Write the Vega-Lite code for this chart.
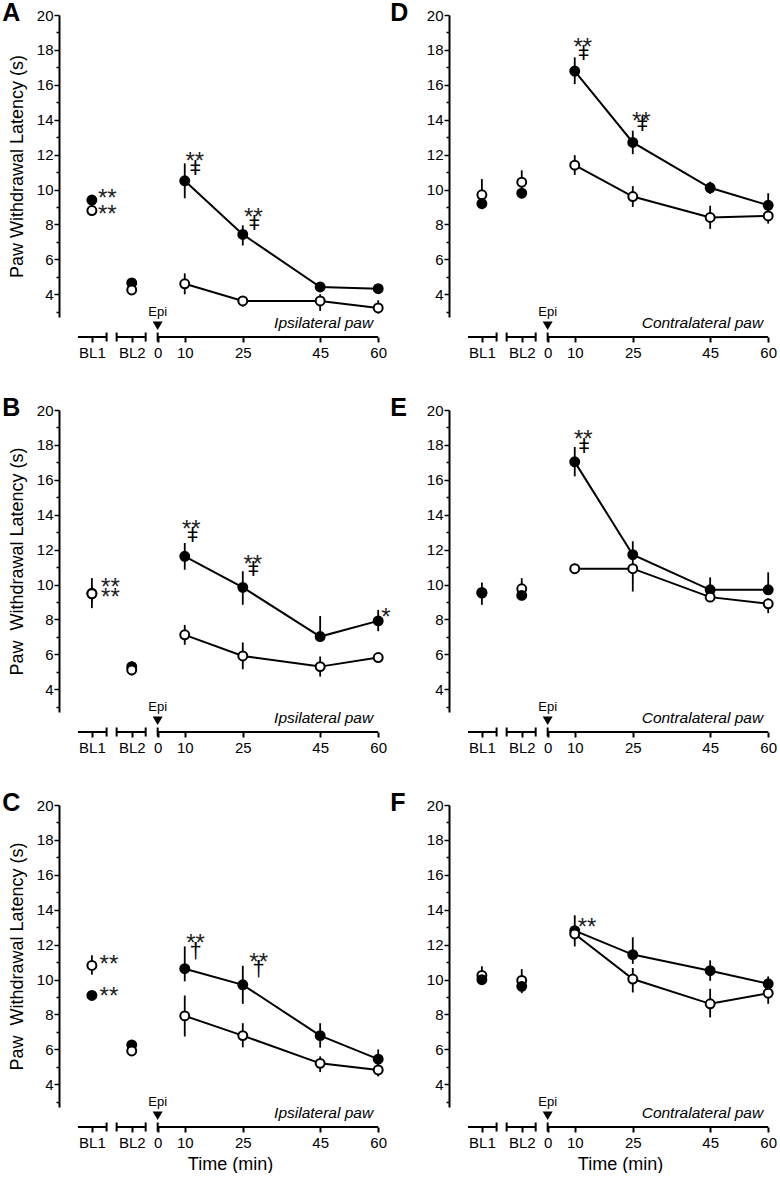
{
"$schema":"https://vega.github.io/schema/vega-lite/v6.json",
"padding":{"left":2,"top":1,"right":0,"bottom":0},
"columns":2,
"bounds":"flush",
"spacing":{"row":93,"column":65},
"config":{
 "font":"Liberation Sans",
 "view":{"stroke":null},
 "axis":{"grid":false,"domainColor":"black","tickColor":"black","labelColor":"black","titleColor":"black","labelFontSize":15,"titleFontSize":18,"titleFontWeight":"normal","domainWidth":2,"tickWidth":1.5},
 "axisY":{"labelPadding":1,"titlePadding":10},
 "axisX":{"domain":false,"offset":20,"tickSize":5,"tickWidth":2,"labelPadding":3,"labelFlush":false,"labelOverlap":false,"titlePadding":5}
},
"datasets":{
 "seg":[{"t":-17.6,"t2":-10.2,"y":1.554},{"t":-7.6,"t2":-0.1,"y":1.554},{"t":3,"t2":60,"y":1.554}],
 "segtick":[{"t":-10.2,"y":1.554},{"t":-7.6,"y":1.554},{"t":-0.1,"y":1.554},{"t":3,"y":1.554}],
 "epi":[{"t":3,"s":"Epi","y":2.77,"yt":2.2}],
 "paw":[
  {"p":"A","t":58.7,"y":2.07,"s":"Ipsilateral paw"},
  {"p":"B","t":58.7,"y":2.07,"s":"Ipsilateral paw"},
  {"p":"C","t":58.7,"y":2.07,"s":"Ipsilateral paw"},
  {"p":"D","t":58.7,"y":2.07,"s":"Contralateral paw"},
  {"p":"E","t":58.7,"y":2.07,"s":"Contralateral paw"},
  {"p":"F","t":58.7,"y":2.07,"s":"Contralateral paw"}
 ],
 "pts":[
  {"p":"A","g":"filled","t":-14,"m":9.4,"lo":9.2,"hi":9.6},
  {"p":"A","g":"filled","t":-3.7,"m":4.65,"lo":4.5,"hi":4.8},
  {"p":"A","g":"filled","t":10,"m":10.5,"lo":9.5,"hi":11.5},
  {"p":"A","g":"filled","t":25,"m":7.43,"lo":6.8,"hi":7.95},
  {"p":"A","g":"filled","t":45,"m":4.42,"lo":4.25,"hi":4.6},
  {"p":"A","g":"filled","t":60,"m":4.32,"lo":4.15,"hi":4.5},
  {"p":"A","g":"open","t":-14,"m":8.8,"lo":8.6,"hi":9.0},
  {"p":"A","g":"open","t":-3.7,"m":4.25,"lo":4.1,"hi":4.4},
  {"p":"A","g":"open","t":10,"m":4.6,"lo":4.0,"hi":5.2},
  {"p":"A","g":"open","t":25,"m":3.62,"lo":3.3,"hi":3.9},
  {"p":"A","g":"open","t":45,"m":3.62,"lo":3.05,"hi":4.0},
  {"p":"A","g":"open","t":60,"m":3.22,"lo":2.9,"hi":3.66},
  {"p":"B","g":"filled","t":-14,"m":9.5,"lo":8.65,"hi":10.37},
  {"p":"B","g":"filled","t":-3.7,"m":5.3,"lo":5.0,"hi":5.6},
  {"p":"B","g":"filled","t":10,"m":11.62,"lo":10.85,"hi":12.38},
  {"p":"B","g":"filled","t":25,"m":9.84,"lo":8.84,"hi":10.76},
  {"p":"B","g":"filled","t":45,"m":7.02,"lo":6.8,"hi":8.2},
  {"p":"B","g":"filled","t":60,"m":7.92,"lo":7.33,"hi":8.55},
  {"p":"B","g":"open","t":-14,"m":9.47,"lo":9.0,"hi":9.9},
  {"p":"B","g":"open","t":-3.7,"m":5.11,"lo":4.8,"hi":5.4},
  {"p":"B","g":"open","t":10,"m":7.12,"lo":6.55,"hi":7.69},
  {"p":"B","g":"open","t":25,"m":5.91,"lo":5.15,"hi":6.68},
  {"p":"B","g":"open","t":45,"m":5.3,"lo":4.73,"hi":5.88},
  {"p":"B","g":"open","t":60,"m":5.82,"lo":5.6,"hi":6.0},
  {"p":"C","g":"filled","t":-14,"m":9.09,"lo":8.85,"hi":9.35},
  {"p":"C","g":"filled","t":-3.7,"m":6.26,"lo":6.0,"hi":6.5},
  {"p":"C","g":"filled","t":10,"m":10.62,"lo":9.9,"hi":11.9},
  {"p":"C","g":"filled","t":25,"m":9.7,"lo":8.61,"hi":10.79},
  {"p":"C","g":"filled","t":45,"m":6.79,"lo":6.1,"hi":7.5},
  {"p":"C","g":"filled","t":60,"m":5.44,"lo":5.1,"hi":6.0},
  {"p":"C","g":"open","t":-14,"m":10.81,"lo":10.28,"hi":11.39},
  {"p":"C","g":"open","t":-3.7,"m":5.91,"lo":5.7,"hi":6.1},
  {"p":"C","g":"open","t":10,"m":7.92,"lo":6.74,"hi":9.09},
  {"p":"C","g":"open","t":25,"m":6.79,"lo":6.12,"hi":7.5},
  {"p":"C","g":"open","t":45,"m":5.2,"lo":4.7,"hi":5.6},
  {"p":"C","g":"open","t":60,"m":4.82,"lo":4.45,"hi":5.1},
  {"p":"D","g":"filled","t":-14,"m":9.2,"lo":8.87,"hi":9.5},
  {"p":"D","g":"filled","t":-3.7,"m":9.79,"lo":9.5,"hi":10.1},
  {"p":"D","g":"filled","t":10,"m":16.79,"lo":16.04,"hi":17.57},
  {"p":"D","g":"filled","t":25,"m":12.7,"lo":12.03,"hi":13.37},
  {"p":"D","g":"filled","t":45,"m":10.1,"lo":9.75,"hi":10.45},
  {"p":"D","g":"filled","t":60,"m":9.1,"lo":8.8,"hi":9.79},
  {"p":"D","g":"open","t":-14,"m":9.7,"lo":9.4,"hi":10.6},
  {"p":"D","g":"open","t":-3.7,"m":10.42,"lo":10.1,"hi":11.1},
  {"p":"D","g":"open","t":10,"m":11.4,"lo":10.84,"hi":11.97},
  {"p":"D","g":"open","t":25,"m":9.6,"lo":9.0,"hi":10.2},
  {"p":"D","g":"open","t":45,"m":8.4,"lo":7.75,"hi":9.07},
  {"p":"D","g":"open","t":60,"m":8.49,"lo":8.05,"hi":8.85},
  {"p":"E","g":"filled","t":-14,"m":9.51,"lo":8.84,"hi":10.12},
  {"p":"E","g":"filled","t":-3.7,"m":9.38,"lo":9.1,"hi":9.7},
  {"p":"E","g":"filled","t":10,"m":17.03,"lo":16.2,"hi":17.88},
  {"p":"E","g":"filled","t":25,"m":11.71,"lo":10.95,"hi":12.48},
  {"p":"E","g":"filled","t":45,"m":9.7,"lo":9.4,"hi":10.41},
  {"p":"E","g":"filled","t":60,"m":9.7,"lo":9.4,"hi":10.7},
  {"p":"E","g":"open","t":-14,"m":9.55,"lo":9.3,"hi":9.8},
  {"p":"E","g":"open","t":-3.7,"m":9.76,"lo":9.4,"hi":10.37},
  {"p":"E","g":"open","t":10,"m":10.91,"lo":10.6,"hi":11.2},
  {"p":"E","g":"open","t":25,"m":10.91,"lo":9.6,"hi":11.2},
  {"p":"E","g":"open","t":45,"m":9.28,"lo":9.0,"hi":9.6},
  {"p":"E","g":"open","t":60,"m":8.9,"lo":8.36,"hi":9.2},
  {"p":"F","g":"filled","t":-14,"m":9.99,"lo":9.7,"hi":10.3},
  {"p":"F","g":"filled","t":-3.7,"m":9.61,"lo":9.22,"hi":9.9},
  {"p":"F","g":"filled","t":10,"m":12.8,"lo":12.4,"hi":13.68},
  {"p":"F","g":"filled","t":25,"m":11.43,"lo":10.9,"hi":12.42},
  {"p":"F","g":"filled","t":45,"m":10.51,"lo":9.93,"hi":11.1},
  {"p":"F","g":"filled","t":60,"m":9.76,"lo":9.4,"hi":10.18},
  {"p":"F","g":"open","t":-14,"m":10.24,"lo":9.9,"hi":10.76},
  {"p":"F","g":"open","t":-3.7,"m":9.95,"lo":9.6,"hi":10.6},
  {"p":"F","g":"open","t":10,"m":12.61,"lo":11.9,"hi":12.9},
  {"p":"F","g":"open","t":25,"m":10.03,"lo":9.26,"hi":10.66},
  {"p":"F","g":"open","t":45,"m":8.61,"lo":7.83,"hi":9.47},
  {"p":"F","g":"open","t":60,"m":9.22,"lo":8.61,"hi":9.6}
 ],
 "ann":[
  {"p":"A","k":"star","t":-10.0,"y":9.85,"s":"**"},
  {"p":"A","k":"star","t":-10.0,"y":8.94,"s":"**"},
  {"p":"A","k":"star","t":12.6,"y":11.99,"s":"**"},
  {"p":"A","k":"dag","t":12.76,"y":11.13,"s":"ǂ"},
  {"p":"A","k":"star","t":27.75,"y":8.79,"s":"**"},
  {"p":"A","k":"dag","t":28.0,"y":7.99,"s":"ǂ"},
  {"p":"B","k":"star","t":-9.2,"y":10.18,"s":"**"},
  {"p":"B","k":"star","t":-9.2,"y":9.61,"s":"**"},
  {"p":"B","k":"star","t":11.7,"y":13.53,"s":"**"},
  {"p":"B","k":"dag","t":12.0,"y":12.73,"s":"ǂ"},
  {"p":"B","k":"star","t":27.6,"y":11.52,"s":"**"},
  {"p":"B","k":"dag","t":27.7,"y":10.8,"s":"ǂ"},
  {"p":"B","k":"star","t":62.0,"y":8.48,"s":"*"},
  {"p":"C","k":"star","t":-9.6,"y":11.23,"s":"**"},
  {"p":"C","k":"star","t":-9.6,"y":9.38,"s":"**"},
  {"p":"C","k":"star","t":12.8,"y":12.42,"s":"**"},
  {"p":"C","k":"dag","t":12.8,"y":11.6,"s":"†"},
  {"p":"C","k":"star","t":29.1,"y":11.33,"s":"**"},
  {"p":"C","k":"dag","t":29.1,"y":10.55,"s":"†"},
  {"p":"D","k":"star","t":12.1,"y":18.53,"s":"**"},
  {"p":"D","k":"dag","t":12.3,"y":17.69,"s":"ǂ"},
  {"p":"D","k":"star","t":27.2,"y":14.27,"s":"**"},
  {"p":"D","k":"dag","t":27.5,"y":13.63,"s":"ǂ"},
  {"p":"E","k":"star","t":12.2,"y":18.66,"s":"**"},
  {"p":"E","k":"dag","t":12.4,"y":17.8,"s":"ǂ"},
  {"p":"F","k":"star","t":13.2,"y":13.34,"s":"**"}
 ]
},
"concat":[
  {"width":325,"height":302,
   "title":{"text":"A","anchor":"start","frame":"bounds","fontSize":25,"fontWeight":"bold","color":"black","offset":-24,"baseline":"alphabetic","dx":-6,"dy":14},
   "encoding":{"x":{"field":"t","type":"quantitative","scale":{"domain":[-22.5,61.5],"nice":false,"zero":false},"axis":{"values":[-14,-3.7,3,10,25,45,60],"labelExpr":"datum.value == -14 ? 'BL1' : datum.value == -3.7 ? 'BL2' : datum.value == 3 ? '0' : datum.label","title":null}},
     "y":{"field":"m","type":"quantitative","scale":{"domain":[2.7,20],"nice":false,"zero":false},"axis":{"values":[3,4,5,6,7,8,9,10,11,12,13,14,15,16,17,18,19,20],"labelExpr":"datum.value % 2 == 0 ? datum.label : ''","tickSize":{"condition":{"test":"datum.value % 2 == 0","value":5},"value":3},"title":"Paw Withdrawal Latency (s)"}}},
   "layer":[
    {"data":{"name":"seg"},"mark":{"type":"rule","strokeWidth":2,"color":"black"},"encoding":{"x2":{"field":"t2"},"y":{"field":"y","type":"quantitative"}}},
    {"data":{"name":"segtick"},"mark":{"type":"tick","orient":"vertical","size":9,"thickness":2,"color":"black","opacity":1},"encoding":{"y":{"field":"y","type":"quantitative"}}},
    {"data":{"name":"epi"},"mark":{"type":"text","fontSize":13,"baseline":"alphabetic","color":"black"},"encoding":{"y":{"field":"y","type":"quantitative"},"text":{"field":"s"}}},
    {"data":{"name":"epi"},"mark":{"type":"point","shape":"triangle-down","filled":true,"size":100,"color":"black","opacity":1},"encoding":{"y":{"field":"yt","type":"quantitative"}}},
    {"data":{"name":"paw"},"transform":[{"filter":"datum.p == 'A'"}],"mark":{"type":"text","fontSize":15.5,"fontStyle":"italic","align":"right","baseline":"alphabetic","color":"black"},"encoding":{"y":{"field":"y","type":"quantitative"},"text":{"field":"s"}}},
    {"data":{"name":"pts"},"transform":[{"filter":"datum.p == 'A'"}],"mark":{"type":"rule","strokeWidth":1.8,"color":"black"},"encoding":{"y":{"field":"lo","type":"quantitative"},"y2":{"field":"hi"}}},
    {"data":{"name":"pts"},"transform":[{"filter":"datum.p == 'A' && datum.t >= 10"}],"mark":{"type":"line","strokeWidth":2,"color":"black"},"encoding":{"detail":{"field":"g"}}},
    {"data":{"name":"pts"},"transform":[{"filter":"datum.p == 'A'"}],"mark":{"type":"circle","size":80,"stroke":"black","strokeWidth":2,"opacity":1},"encoding":{"fill":{"field":"g","type":"nominal","scale":{"domain":["filled","open"],"range":["black","white"]},"legend":null},"order":{"field":"m","sort":"descending"}}},
    {"data":{"name":"ann"},"transform":[{"filter":"datum.p == 'A' && datum.k == 'star'"}],"mark":{"type":"text","fontSize":24,"baseline":"alphabetic","dy":14,"color":"#222"},"encoding":{"y":{"field":"y","type":"quantitative"},"text":{"field":"s"}}},
    {"data":{"name":"ann"},"transform":[{"filter":"datum.p == 'A' && datum.k == 'dag'"}],"mark":{"type":"text","fontSize":20,"baseline":"alphabetic","dy":5,"color":"black"},"encoding":{"y":{"field":"y","type":"quantitative"},"text":{"field":"s"}}}
   ]},
  {"width":325,"height":302,
   "title":{"text":"D","anchor":"start","frame":"bounds","fontSize":25,"fontWeight":"bold","color":"black","offset":-24,"baseline":"alphabetic","dx":-36,"dy":14},
   "encoding":{"x":{"field":"t","type":"quantitative","scale":{"domain":[-22.5,61.5],"nice":false,"zero":false},"axis":{"values":[-14,-3.7,3,10,25,45,60],"labelExpr":"datum.value == -14 ? 'BL1' : datum.value == -3.7 ? 'BL2' : datum.value == 3 ? '0' : datum.label","title":null}},
     "y":{"field":"m","type":"quantitative","scale":{"domain":[2.7,20],"nice":false,"zero":false},"axis":{"values":[3,4,5,6,7,8,9,10,11,12,13,14,15,16,17,18,19,20],"labelExpr":"datum.value % 2 == 0 ? datum.label : ''","tickSize":{"condition":{"test":"datum.value % 2 == 0","value":5},"value":3},"title":null}}},
   "layer":[
    {"data":{"name":"seg"},"mark":{"type":"rule","strokeWidth":2,"color":"black"},"encoding":{"x2":{"field":"t2"},"y":{"field":"y","type":"quantitative"}}},
    {"data":{"name":"segtick"},"mark":{"type":"tick","orient":"vertical","size":9,"thickness":2,"color":"black","opacity":1},"encoding":{"y":{"field":"y","type":"quantitative"}}},
    {"data":{"name":"epi"},"mark":{"type":"text","fontSize":13,"baseline":"alphabetic","color":"black"},"encoding":{"y":{"field":"y","type":"quantitative"},"text":{"field":"s"}}},
    {"data":{"name":"epi"},"mark":{"type":"point","shape":"triangle-down","filled":true,"size":100,"color":"black","opacity":1},"encoding":{"y":{"field":"yt","type":"quantitative"}}},
    {"data":{"name":"paw"},"transform":[{"filter":"datum.p == 'D'"}],"mark":{"type":"text","fontSize":15.5,"fontStyle":"italic","align":"right","baseline":"alphabetic","color":"black"},"encoding":{"y":{"field":"y","type":"quantitative"},"text":{"field":"s"}}},
    {"data":{"name":"pts"},"transform":[{"filter":"datum.p == 'D'"}],"mark":{"type":"rule","strokeWidth":1.8,"color":"black"},"encoding":{"y":{"field":"lo","type":"quantitative"},"y2":{"field":"hi"}}},
    {"data":{"name":"pts"},"transform":[{"filter":"datum.p == 'D' && datum.t >= 10"}],"mark":{"type":"line","strokeWidth":2,"color":"black"},"encoding":{"detail":{"field":"g"}}},
    {"data":{"name":"pts"},"transform":[{"filter":"datum.p == 'D'"}],"mark":{"type":"circle","size":80,"stroke":"black","strokeWidth":2,"opacity":1},"encoding":{"fill":{"field":"g","type":"nominal","scale":{"domain":["filled","open"],"range":["black","white"]},"legend":null},"order":{"field":"m","sort":"descending"}}},
    {"data":{"name":"ann"},"transform":[{"filter":"datum.p == 'D' && datum.k == 'star'"}],"mark":{"type":"text","fontSize":24,"baseline":"alphabetic","dy":14,"color":"#222"},"encoding":{"y":{"field":"y","type":"quantitative"},"text":{"field":"s"}}},
    {"data":{"name":"ann"},"transform":[{"filter":"datum.p == 'D' && datum.k == 'dag'"}],"mark":{"type":"text","fontSize":20,"baseline":"alphabetic","dy":5,"color":"black"},"encoding":{"y":{"field":"y","type":"quantitative"},"text":{"field":"s"}}}
   ]},
  {"width":325,"height":302,
   "title":{"text":"B","anchor":"start","frame":"bounds","fontSize":25,"fontWeight":"bold","color":"black","offset":-24,"baseline":"alphabetic","dx":-6,"dy":14},
   "encoding":{"x":{"field":"t","type":"quantitative","scale":{"domain":[-22.5,61.5],"nice":false,"zero":false},"axis":{"values":[-14,-3.7,3,10,25,45,60],"labelExpr":"datum.value == -14 ? 'BL1' : datum.value == -3.7 ? 'BL2' : datum.value == 3 ? '0' : datum.label","title":null}},
     "y":{"field":"m","type":"quantitative","scale":{"domain":[2.7,20],"nice":false,"zero":false},"axis":{"values":[3,4,5,6,7,8,9,10,11,12,13,14,15,16,17,18,19,20],"labelExpr":"datum.value % 2 == 0 ? datum.label : ''","tickSize":{"condition":{"test":"datum.value % 2 == 0","value":5},"value":3},"title":"Paw\u00a0 Withdrawal Latency (s)"}}},
   "layer":[
    {"data":{"name":"seg"},"mark":{"type":"rule","strokeWidth":2,"color":"black"},"encoding":{"x2":{"field":"t2"},"y":{"field":"y","type":"quantitative"}}},
    {"data":{"name":"segtick"},"mark":{"type":"tick","orient":"vertical","size":9,"thickness":2,"color":"black","opacity":1},"encoding":{"y":{"field":"y","type":"quantitative"}}},
    {"data":{"name":"epi"},"mark":{"type":"text","fontSize":13,"baseline":"alphabetic","color":"black"},"encoding":{"y":{"field":"y","type":"quantitative"},"text":{"field":"s"}}},
    {"data":{"name":"epi"},"mark":{"type":"point","shape":"triangle-down","filled":true,"size":100,"color":"black","opacity":1},"encoding":{"y":{"field":"yt","type":"quantitative"}}},
    {"data":{"name":"paw"},"transform":[{"filter":"datum.p == 'B'"}],"mark":{"type":"text","fontSize":15.5,"fontStyle":"italic","align":"right","baseline":"alphabetic","color":"black"},"encoding":{"y":{"field":"y","type":"quantitative"},"text":{"field":"s"}}},
    {"data":{"name":"pts"},"transform":[{"filter":"datum.p == 'B'"}],"mark":{"type":"rule","strokeWidth":1.8,"color":"black"},"encoding":{"y":{"field":"lo","type":"quantitative"},"y2":{"field":"hi"}}},
    {"data":{"name":"pts"},"transform":[{"filter":"datum.p == 'B' && datum.t >= 10"}],"mark":{"type":"line","strokeWidth":2,"color":"black"},"encoding":{"detail":{"field":"g"}}},
    {"data":{"name":"pts"},"transform":[{"filter":"datum.p == 'B'"}],"mark":{"type":"circle","size":80,"stroke":"black","strokeWidth":2,"opacity":1},"encoding":{"fill":{"field":"g","type":"nominal","scale":{"domain":["filled","open"],"range":["black","white"]},"legend":null},"order":{"field":"m","sort":"descending"}}},
    {"data":{"name":"ann"},"transform":[{"filter":"datum.p == 'B' && datum.k == 'star'"}],"mark":{"type":"text","fontSize":24,"baseline":"alphabetic","dy":14,"color":"#222"},"encoding":{"y":{"field":"y","type":"quantitative"},"text":{"field":"s"}}},
    {"data":{"name":"ann"},"transform":[{"filter":"datum.p == 'B' && datum.k == 'dag'"}],"mark":{"type":"text","fontSize":20,"baseline":"alphabetic","dy":5,"color":"black"},"encoding":{"y":{"field":"y","type":"quantitative"},"text":{"field":"s"}}}
   ]},
  {"width":325,"height":302,
   "title":{"text":"E","anchor":"start","frame":"bounds","fontSize":25,"fontWeight":"bold","color":"black","offset":-24,"baseline":"alphabetic","dx":-36,"dy":14},
   "encoding":{"x":{"field":"t","type":"quantitative","scale":{"domain":[-22.5,61.5],"nice":false,"zero":false},"axis":{"values":[-14,-3.7,3,10,25,45,60],"labelExpr":"datum.value == -14 ? 'BL1' : datum.value == -3.7 ? 'BL2' : datum.value == 3 ? '0' : datum.label","title":null}},
     "y":{"field":"m","type":"quantitative","scale":{"domain":[2.7,20],"nice":false,"zero":false},"axis":{"values":[3,4,5,6,7,8,9,10,11,12,13,14,15,16,17,18,19,20],"labelExpr":"datum.value % 2 == 0 ? datum.label : ''","tickSize":{"condition":{"test":"datum.value % 2 == 0","value":5},"value":3},"title":null}}},
   "layer":[
    {"data":{"name":"seg"},"mark":{"type":"rule","strokeWidth":2,"color":"black"},"encoding":{"x2":{"field":"t2"},"y":{"field":"y","type":"quantitative"}}},
    {"data":{"name":"segtick"},"mark":{"type":"tick","orient":"vertical","size":9,"thickness":2,"color":"black","opacity":1},"encoding":{"y":{"field":"y","type":"quantitative"}}},
    {"data":{"name":"epi"},"mark":{"type":"text","fontSize":13,"baseline":"alphabetic","color":"black"},"encoding":{"y":{"field":"y","type":"quantitative"},"text":{"field":"s"}}},
    {"data":{"name":"epi"},"mark":{"type":"point","shape":"triangle-down","filled":true,"size":100,"color":"black","opacity":1},"encoding":{"y":{"field":"yt","type":"quantitative"}}},
    {"data":{"name":"paw"},"transform":[{"filter":"datum.p == 'E'"}],"mark":{"type":"text","fontSize":15.5,"fontStyle":"italic","align":"right","baseline":"alphabetic","color":"black"},"encoding":{"y":{"field":"y","type":"quantitative"},"text":{"field":"s"}}},
    {"data":{"name":"pts"},"transform":[{"filter":"datum.p == 'E'"}],"mark":{"type":"rule","strokeWidth":1.8,"color":"black"},"encoding":{"y":{"field":"lo","type":"quantitative"},"y2":{"field":"hi"}}},
    {"data":{"name":"pts"},"transform":[{"filter":"datum.p == 'E' && datum.t >= 10"}],"mark":{"type":"line","strokeWidth":2,"color":"black"},"encoding":{"detail":{"field":"g"}}},
    {"data":{"name":"pts"},"transform":[{"filter":"datum.p == 'E'"}],"mark":{"type":"circle","size":80,"stroke":"black","strokeWidth":2,"opacity":1},"encoding":{"fill":{"field":"g","type":"nominal","scale":{"domain":["filled","open"],"range":["black","white"]},"legend":null},"order":{"field":"m","sort":"descending"}}},
    {"data":{"name":"ann"},"transform":[{"filter":"datum.p == 'E' && datum.k == 'star'"}],"mark":{"type":"text","fontSize":24,"baseline":"alphabetic","dy":14,"color":"#222"},"encoding":{"y":{"field":"y","type":"quantitative"},"text":{"field":"s"}}},
    {"data":{"name":"ann"},"transform":[{"filter":"datum.p == 'E' && datum.k == 'dag'"}],"mark":{"type":"text","fontSize":20,"baseline":"alphabetic","dy":5,"color":"black"},"encoding":{"y":{"field":"y","type":"quantitative"},"text":{"field":"s"}}}
   ]},
  {"width":325,"height":302,
   "title":{"text":"C","anchor":"start","frame":"bounds","fontSize":25,"fontWeight":"bold","color":"black","offset":-24,"baseline":"alphabetic","dx":-6,"dy":14},
   "encoding":{"x":{"field":"t","type":"quantitative","scale":{"domain":[-22.5,61.5],"nice":false,"zero":false},"axis":{"values":[-14,-3.7,3,10,25,45,60],"labelExpr":"datum.value == -14 ? 'BL1' : datum.value == -3.7 ? 'BL2' : datum.value == 3 ? '0' : datum.label","title":"Time (min)","titleX":171}},
     "y":{"field":"m","type":"quantitative","scale":{"domain":[2.7,20],"nice":false,"zero":false},"axis":{"values":[3,4,5,6,7,8,9,10,11,12,13,14,15,16,17,18,19,20],"labelExpr":"datum.value % 2 == 0 ? datum.label : ''","tickSize":{"condition":{"test":"datum.value % 2 == 0","value":5},"value":3},"title":"Paw\u00a0 Withdrawal Latency (s)"}}},
   "layer":[
    {"data":{"name":"seg"},"mark":{"type":"rule","strokeWidth":2,"color":"black"},"encoding":{"x2":{"field":"t2"},"y":{"field":"y","type":"quantitative"}}},
    {"data":{"name":"segtick"},"mark":{"type":"tick","orient":"vertical","size":9,"thickness":2,"color":"black","opacity":1},"encoding":{"y":{"field":"y","type":"quantitative"}}},
    {"data":{"name":"epi"},"mark":{"type":"text","fontSize":13,"baseline":"alphabetic","color":"black"},"encoding":{"y":{"field":"y","type":"quantitative"},"text":{"field":"s"}}},
    {"data":{"name":"epi"},"mark":{"type":"point","shape":"triangle-down","filled":true,"size":100,"color":"black","opacity":1},"encoding":{"y":{"field":"yt","type":"quantitative"}}},
    {"data":{"name":"paw"},"transform":[{"filter":"datum.p == 'C'"}],"mark":{"type":"text","fontSize":15.5,"fontStyle":"italic","align":"right","baseline":"alphabetic","color":"black"},"encoding":{"y":{"field":"y","type":"quantitative"},"text":{"field":"s"}}},
    {"data":{"name":"pts"},"transform":[{"filter":"datum.p == 'C'"}],"mark":{"type":"rule","strokeWidth":1.8,"color":"black"},"encoding":{"y":{"field":"lo","type":"quantitative"},"y2":{"field":"hi"}}},
    {"data":{"name":"pts"},"transform":[{"filter":"datum.p == 'C' && datum.t >= 10"}],"mark":{"type":"line","strokeWidth":2,"color":"black"},"encoding":{"detail":{"field":"g"}}},
    {"data":{"name":"pts"},"transform":[{"filter":"datum.p == 'C'"}],"mark":{"type":"circle","size":80,"stroke":"black","strokeWidth":2,"opacity":1},"encoding":{"fill":{"field":"g","type":"nominal","scale":{"domain":["filled","open"],"range":["black","white"]},"legend":null},"order":{"field":"m","sort":"descending"}}},
    {"data":{"name":"ann"},"transform":[{"filter":"datum.p == 'C' && datum.k == 'star'"}],"mark":{"type":"text","fontSize":24,"baseline":"alphabetic","dy":14,"color":"#222"},"encoding":{"y":{"field":"y","type":"quantitative"},"text":{"field":"s"}}},
    {"data":{"name":"ann"},"transform":[{"filter":"datum.p == 'C' && datum.k == 'dag'"}],"mark":{"type":"text","fontSize":22,"baseline":"alphabetic","dy":6,"color":"black"},"encoding":{"y":{"field":"y","type":"quantitative"},"text":{"field":"s"}}}
   ]},
  {"width":325,"height":302,
   "title":{"text":"F","anchor":"start","frame":"bounds","fontSize":25,"fontWeight":"bold","color":"black","offset":-24,"baseline":"alphabetic","dx":-36,"dy":14},
   "encoding":{"x":{"field":"t","type":"quantitative","scale":{"domain":[-22.5,61.5],"nice":false,"zero":false},"axis":{"values":[-14,-3.7,3,10,25,45,60],"labelExpr":"datum.value == -14 ? 'BL1' : datum.value == -3.7 ? 'BL2' : datum.value == 3 ? '0' : datum.label","title":"Time (min)","titleX":171}},
     "y":{"field":"m","type":"quantitative","scale":{"domain":[2.7,20],"nice":false,"zero":false},"axis":{"values":[3,4,5,6,7,8,9,10,11,12,13,14,15,16,17,18,19,20],"labelExpr":"datum.value % 2 == 0 ? datum.label : ''","tickSize":{"condition":{"test":"datum.value % 2 == 0","value":5},"value":3},"title":null}}},
   "layer":[
    {"data":{"name":"seg"},"mark":{"type":"rule","strokeWidth":2,"color":"black"},"encoding":{"x2":{"field":"t2"},"y":{"field":"y","type":"quantitative"}}},
    {"data":{"name":"segtick"},"mark":{"type":"tick","orient":"vertical","size":9,"thickness":2,"color":"black","opacity":1},"encoding":{"y":{"field":"y","type":"quantitative"}}},
    {"data":{"name":"epi"},"mark":{"type":"text","fontSize":13,"baseline":"alphabetic","color":"black"},"encoding":{"y":{"field":"y","type":"quantitative"},"text":{"field":"s"}}},
    {"data":{"name":"epi"},"mark":{"type":"point","shape":"triangle-down","filled":true,"size":100,"color":"black","opacity":1},"encoding":{"y":{"field":"yt","type":"quantitative"}}},
    {"data":{"name":"paw"},"transform":[{"filter":"datum.p == 'F'"}],"mark":{"type":"text","fontSize":15.5,"fontStyle":"italic","align":"right","baseline":"alphabetic","color":"black"},"encoding":{"y":{"field":"y","type":"quantitative"},"text":{"field":"s"}}},
    {"data":{"name":"pts"},"transform":[{"filter":"datum.p == 'F'"}],"mark":{"type":"rule","strokeWidth":1.8,"color":"black"},"encoding":{"y":{"field":"lo","type":"quantitative"},"y2":{"field":"hi"}}},
    {"data":{"name":"pts"},"transform":[{"filter":"datum.p == 'F' && datum.t >= 10"}],"mark":{"type":"line","strokeWidth":2,"color":"black"},"encoding":{"detail":{"field":"g"}}},
    {"data":{"name":"pts"},"transform":[{"filter":"datum.p == 'F'"}],"mark":{"type":"circle","size":80,"stroke":"black","strokeWidth":2,"opacity":1},"encoding":{"fill":{"field":"g","type":"nominal","scale":{"domain":["filled","open"],"range":["black","white"]},"legend":null},"order":{"field":"m","sort":"descending"}}},
    {"data":{"name":"ann"},"transform":[{"filter":"datum.p == 'F' && datum.k == 'star'"}],"mark":{"type":"text","fontSize":24,"baseline":"alphabetic","dy":14,"color":"#222"},"encoding":{"y":{"field":"y","type":"quantitative"},"text":{"field":"s"}}}
   ]}
]
}
